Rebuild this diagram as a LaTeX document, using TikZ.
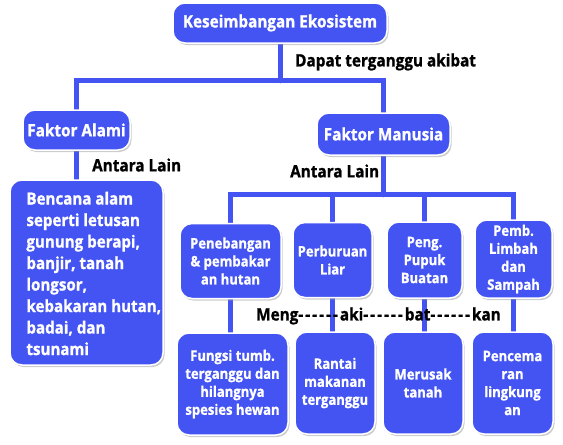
\documentclass[tikz,border=0pt]{standalone}
\usepackage{fontspec}
\setmainfont{Open Sans}[FakeStretch=0.9,BoldFeatures={FakeBold=1}]
\usetikzlibrary{positioning,shadows,backgrounds}

\definecolor{boxblue}{RGB}{68,84,242}
\newcommand{\hy}{\mbox{-}\hspace{2pt}}
\newcommand{\hyph}{\hy\hy\hy\hy\hy\hy}

\tikzset{
  box/.style={rectangle,rounded corners=12pt,draw=white,line width=1.5pt,fill=boxblue,text=white,
    inner sep=0pt,align=center,font=\bfseries\fontsize{17}{20}\selectfont,
    drop shadow={shadow xshift=1.5pt,shadow yshift=-2pt,fill=black!40}},
  leaf/.style={box,font=\bfseries\fontsize{14.5}{18}\selectfont},
  link/.style={draw=boxblue,line width=5pt,line cap=round},
  note/.style={anchor=west,inner sep=0pt,font=\bfseries\fontsize{17}{20}\selectfont}
}

\begin{document}
\begin{tikzpicture}[x=1pt,y=-1pt,node distance=123pt]
\useasboundingbox (0,0) rectangle (563,445);

% Nodes
\node[box,minimum width=214pt,minimum height=40pt] (ke) at (280,23) {Keseimbangan Ekosistem};
\node[box,minimum width=107pt,minimum height=40pt] (fa) at (76.5,130) {Faktor Alami};
\node[box,minimum width=133pt,minimum height=42pt] (fm) at (383.5,134) {Faktor Manusia};
\node[box,minimum width=153pt,minimum height=185pt] (bc) at (86.5,272.5) {};
\node[note,align=left,text=white,xshift=17pt,yshift=-1pt,font=\bfseries\fontsize{16.8}{21.5}\selectfont] (bct) at (bc.west)
  {Bencana alam\\seperti letusan\\gunung berapi,\\banjir, tanah\\longsor,\\kebakaran hutan,\\badai, dan\\tsunami};

% second row
\node[leaf,minimum width=101pt,minimum height=75pt] (pn) at (230.5,261) {Penebangan\\\& pembakar\\an hutan};
\node[leaf,minimum width=79pt,minimum height=75pt] (pb) at (332.5,260) {Perburuan\\Liar};
\node[leaf,minimum width=75pt,minimum height=76pt] (pp) at (424.5,260) {Peng.\\Pupuk\\Buatan};
\node[leaf,minimum width=77pt,minimum height=78pt] (pl) at (513.5,259) {Pemb.\\Limbah\\dan\\Sampah};

% third row
\node[leaf,below of=pn,xshift=2pt,minimum width=111pt,minimum height=102pt] (fs) {Fungsi tumb.\\terganggu dan\\hilangnya\\spesies hewan};
\node[leaf,below of=pb,xshift=2.5pt,minimum width=80pt,minimum height=102pt] (rt) {Rantai\\makanan\\terganggu};
\node[leaf,below of=pp,xshift=-1.5pt,minimum width=80pt,minimum height=102pt] (mr) {Merusak\\tanah};
\node[leaf,below of=pl,xshift=-1pt,yshift=-1pt,minimum width=81pt,minimum height=102pt] (pc) {Pencema\\ran\\lingkung\\an};

% labels
\node[note] (dt) at (295,62) {Dapat terganggu akibat};
\node[note] (al1) at (92,165) {Antara Lain};
\node[note] (al2) at (290,171) {Antara Lain};
\node[note] (mk) at (256,316) {Meng\hyph aki\hyph bat\hyph kan};

%lines
\begin{pgfonlayer}{background}
 \draw[link] (ke.south) -- ++(0,37) coordinate (k1);
 \draw[link] (fa.north) |- (k1) -| (fm.north);
 \draw[link] (fa.south) -- (fa.south |- bc.north);
 \draw[link] (fm.south) -- ++(0,39) coordinate (m1);
 \draw[link] (pn.north) |- (m1) -| (pl.north);
 \draw[link] (pb.north) -- (pb.north |- m1);
 \draw[link] (pp.north) -- (pp.north |- m1);
 \draw[link] (pn.south) -- (pn.south |- fs.north);
 \draw[link] (pb.south) -- (pb.south |- rt.north);
 \draw[link] (pp.south) -- (pp.south |- mr.north);
 \draw[link] (pl.south) -- (pl.south |- pc.north);
\end{pgfonlayer}
\end{tikzpicture}
\end{document}
